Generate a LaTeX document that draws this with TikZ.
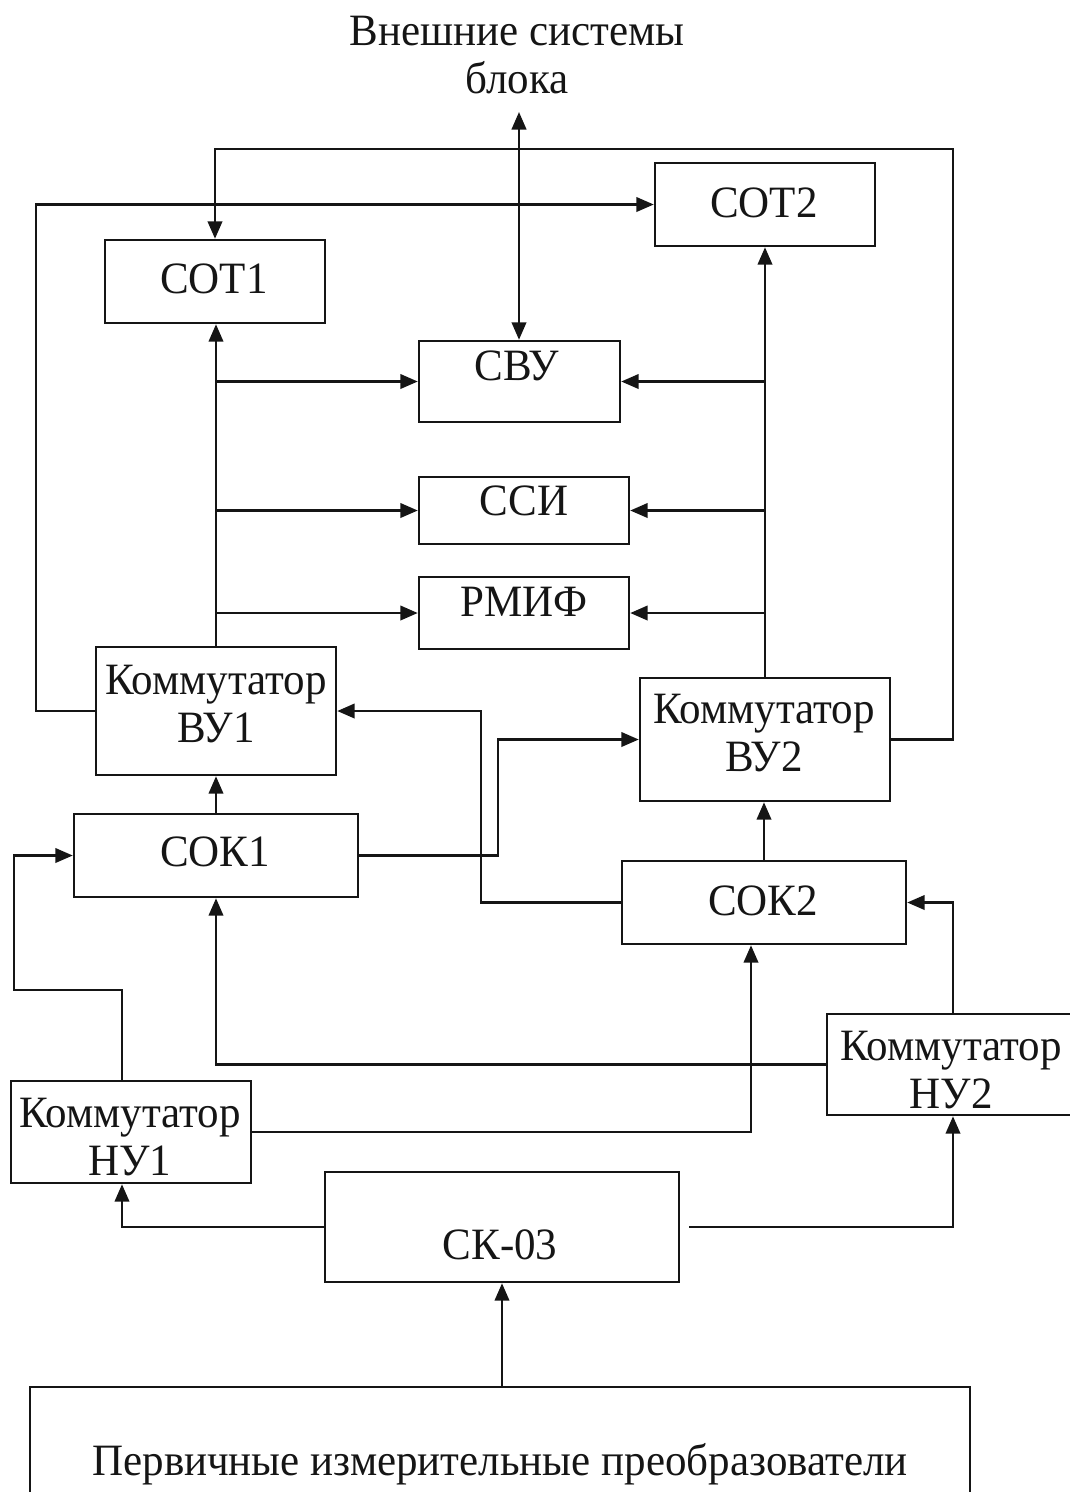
\documentclass[tikz,border=0pt]{standalone}
\usepackage{fontspec}
\setmainfont{Liberation Serif}[FakeStretch=0.96]
\usetikzlibrary{arrows.meta,calc,fit}
\definecolor{ink}{HTML}{151515}
\tikzset{
  blk/.style={draw=ink,line width=1.4pt,inner sep=0pt,fit={#1}},
  lbl/.style={text=ink,inner sep=0pt,anchor=base,align=center,
    font=\fontsize{25.5}{27.3}\selectfont},
  arr/.style={ink,line width=1.4pt,-{Triangle[length=3.5mm,width=2.9mm]}},
  darr/.style={ink,line width=1.4pt,{Triangle[length=3.5mm,width=2.9mm]}-{Triangle[length=3.5mm,width=2.9mm]}},
}

\begin{document}
\begin{tikzpicture}[x=0.02cm,y=-0.02cm]
  \useasboundingbox (0,0) rectangle (1070,1492);
  % blocks
  \node[blk={(105,240) (325,323)}] (sot1) {};
  \node[blk={(655,163) (875,246)}] (sot2) {};
  \node[blk={(419,341) (620,422)}] (svu) {};
  \node[blk={(419,477) (629,544)}] (ssi) {};
  \node[blk={(419,577) (629,649)}] (rmif) {};
  \node[blk={(96,647) (336,775)}] (vu1) {};
  \node[blk={(640,678) (890,801)}] (vu2) {};
  \node[blk={(74,814) (358,897)}] (sok1) {};
  \node[blk={(622,861) (906,944)}] (sok2) {};
  \node[blk={(827,1014) (1090,1115)}] (nu2) {};
  \node[blk={(11,1081) (251,1183)}] (nu1) {};
  \node[blk={(325,1172) (679,1282)}] (sk) {};
  \node[blk={(30,1387) (970,1510)}] (pip) {};
  % texts (base = last line)
  \node[lbl] (ext-t) at (517,93) {Внешние системы\\блока};
  \node[lbl] (sot1-t) at (214,293) {СОТ1};
  \node[lbl] (sot2-t) at (764,217) {СОТ2};
  \node[lbl] (svu-t) at (517,380) {СВУ};
  \node[lbl] (ssi-t) at (524,515) {ССИ};
  \node[lbl] (rmif-t) at (524,616) {РМИФ};
  \node[lbl] (vu1-t) at (216,742) {Коммутатор\\ВУ1};
  \node[lbl] (vu2-t) at (764,771) {Коммутатор\\ВУ2};
  \node[lbl] (sok1-t) at (215,866) {СОК1};
  \node[lbl] (sok2-t) at (763,915) {СОК2};
  \node[lbl] (nu2-t) at (951,1108) {Коммутатор\\НУ2};
  \node[lbl] (nu1-t) at (130,1175) {Коммутатор\\НУ1};
  \node[lbl] (sk-t) at (500,1259) {СК-03};
  \node[lbl] (pip-t) at (500,1475) {Первичные измерительные преобразователи};
  % helper points
  \coordinate (extin) at (519,112);
  \coordinate (ne) at (953,149);
  \coordinate (nw) at (36,0);
  \coordinate (m1) at (498,0);
  \coordinate (m2) at (481,0);
  \coordinate (nu1x) at (122,0);
  \coordinate (lw) at (14,990);
  \coordinate (sx) at (751,0);
  \coordinate (nu2x) at (953,0);
  % connectors
  \draw[darr] (extin) -- (extin |- svu.north);
  \draw[arr] (vu2.east) -| (ne) -| (sot1.north);
  \draw[arr] (vu1.west) -| (nw |- sot2.west) -- (sot2.west);
  \draw[arr] (vu1.north) -- (vu1.north |- sot1.south);
  \draw[arr] (vu1.north |- svu.west) -- (svu.west);
  \draw[arr] (vu1.north |- ssi.west) -- (ssi.west);
  \draw[arr] (vu1.north |- rmif.west) -- (rmif.west);
  \draw[arr] (vu2.north) -- (vu2.north |- sot2.south);
  \draw[arr] (vu2.north |- svu.east) -- (svu.east);
  \draw[arr] (vu2.north |- ssi.east) -- (ssi.east);
  \draw[arr] (vu2.north |- rmif.east) -- (rmif.east);
  \draw[arr] (sok1.north) -- (vu1.south);
  \draw[arr] (sok1.east) -| (m1 |- vu2.west) -- (vu2.west);
  \draw[arr] (sok2.west) -| (m2 |- vu1.east) -- (vu1.east);
  \draw[arr] (sok2.north) -- (sok2.north |- vu2.south);
  \draw[arr] (nu1x |- nu1.north) |- (lw) |- (sok1.west);
  \draw[arr] (nu1.east) -| (sx |- sok2.south);
  \draw[arr] (nu2.west) -| (sok1.south);
  \draw[arr] (nu2x |- nu2.north) |- (sok2.east);
  \draw[arr] (sk.west) -| (nu1x |- nu1.south);
  \draw[arr] ($(sk.east)+(9,0)$) -| (nu2x |- nu2.south);
  \draw[arr] (sk.south |- pip.north) -- (sk.south);
\end{tikzpicture}
\end{document}
